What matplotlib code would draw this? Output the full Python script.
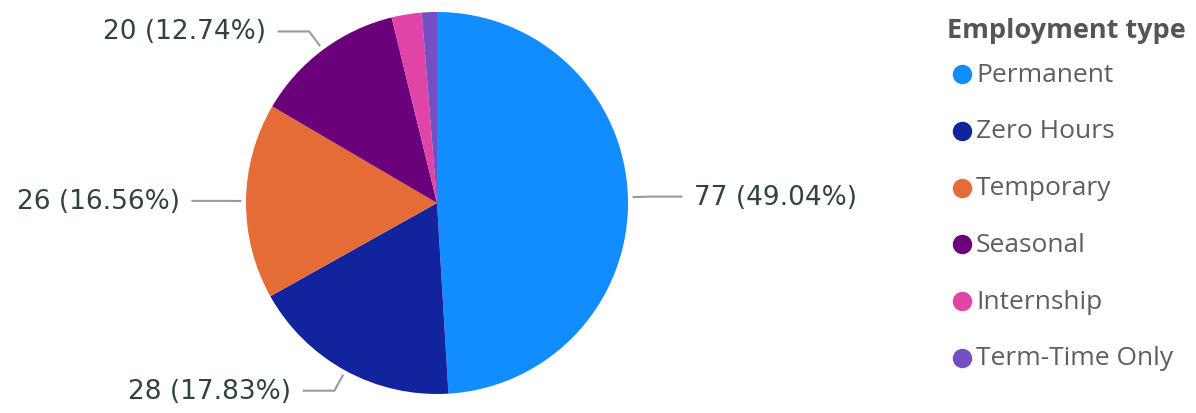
import numpy as np
import matplotlib.pyplot as plt

# data
categories = ["Permanent", "Zero Hours", "Temporary", "Seasonal", "Internship", "Term-Time Only"]
counts = [77, 28, 26, 20, 4, 2]
colors = ["#118DFF", "#12239E", "#E66C37", "#6B007B", "#E044A7", "#744EC2"]
shown = [True, True, True, True, False, False]   # small slices carry no label
legend_title = "Employment type"

plt.rcParams["font.family"] = ["Open Sans", "DejaVu Sans"]

W, H = 1196, 414
fig = plt.figure(figsize=(W / 100, H / 100), dpi=100)

# pie: centre (437, 204) px, radius 191 px
cx, cy, R = 437, 204, 191
ax = fig.add_axes([(cx - R) / W, (H - cy - R) / H, 2 * R / W, 2 * R / H])
wedges, _ = ax.pie(counts, colors=colors, startangle=90, counterclock=False,
                   wedgeprops=dict(linewidth=0))
ax.set_xlim(-1, 1)
ax.set_ylim(-1, 1)
ax.set_aspect("equal")
ax.axis("off")

total = sum(counts)
label_color = "#2f4538"
for w, n, show in zip(wedges, counts, shown):
    if not show:
        continue
    mid = np.deg2rad((w.theta1 + w.theta2) / 2)
    c, s = np.cos(mid), np.sin(mid)
    x0, y0 = 1.03 * c, 1.03 * s
    x1, y1 = 1.12 * c, 1.12 * s
    side = 1 if c >= 0 else -1
    x2 = x1 + side * 0.16
    ax.plot([x0, x1, x2], [y0, y1, y1], color="#9a9a9a", lw=1.5, clip_on=False)
    ax.text(x2 + side * 0.065, y1, f"{n} ({n / total * 100:.2f}%)",
            ha="left" if side > 0 else "right", va="center",
            fontsize=19, color=label_color, family="DejaVu Sans")

# legend
fig.text(947 / W, 1 - 31 / H, legend_title, fontsize=19.5, fontweight="bold",
         color="#555555", ha="left", va="center")
for i, (name, col) in enumerate(zip(categories, colors)):
    y = 1 - (75 + 56.8 * i) / H
    fig.add_artist(plt.Line2D([962 / W], [y], marker="o", markersize=14,
                              markerfacecolor=col, markeredgewidth=0,
                              transform=fig.transFigure))
    fig.text(976 / W, y, name, fontsize=19, color="#605e5c", ha="left", va="center")

fig.savefig("out.png", dpi=100, facecolor="white")
